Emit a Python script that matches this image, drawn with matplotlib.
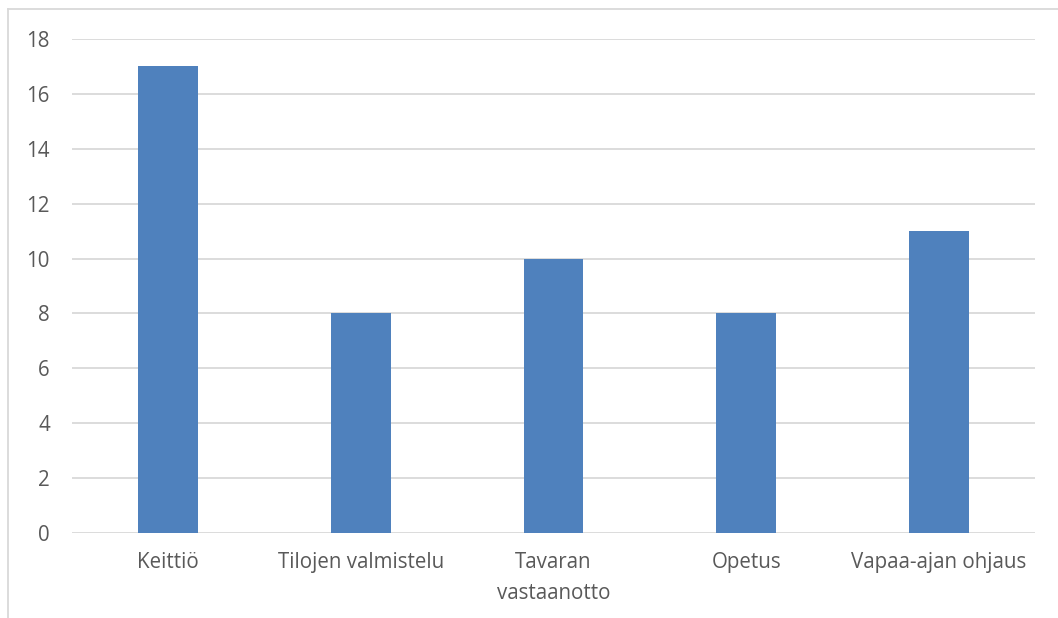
import numpy as np
import matplotlib.pyplot as plt
from matplotlib.lines import Line2D

plt.rcParams['font.family'] = ['Open Sans', 'DejaVu Sans']

categories = ['Keittiö', 'Tilojen valmistelu', 'Tavaran\nvastaanotto', 'Opetus', 'Vapaa-ajan ohjaus']
values = [17, 8, 10, 8, 11]

W, H = 1058, 618
fig = plt.figure(figsize=(W / 100, H / 100), dpi=100)
ax = fig.add_axes([72 / W, (H - 533) / H, (1035 - 72) / W, (533 - 39) / H])

x_pos = np.arange(len(categories))
ax.bar(x_pos, values, width=0.31, color='#4F81BD', zorder=3)

ax.set_xlim(-0.5, len(categories) - 0.5)
ax.set_ylim(0, 18)
ax.set_yticks(np.arange(0, 19, 2))
ax.set_xticks(x_pos)
ax.set_xticklabels(categories, linespacing=1.6)
ax.tick_params(axis='both', length=0, labelsize=14.8, colors='#595959')
ax.tick_params(axis='x', pad=14)
ax.tick_params(axis='y', pad=16)

ax.grid(axis='y', color='#D9D9D9', linewidth=1.3, zorder=0)
for s in ax.spines.values():
    s.set_visible(False)

# chart area border (only top and left visible in the crop)
fig.add_artist(Line2D([8 / W, 8 / W], [0, 1 - 9 / H], color='#D9D9D9', lw=1.3))
fig.add_artist(Line2D([8 / W, 1], [1 - 9 / H, 1 - 9 / H], color='#D9D9D9', lw=1.3))

plt.savefig('out.png')
